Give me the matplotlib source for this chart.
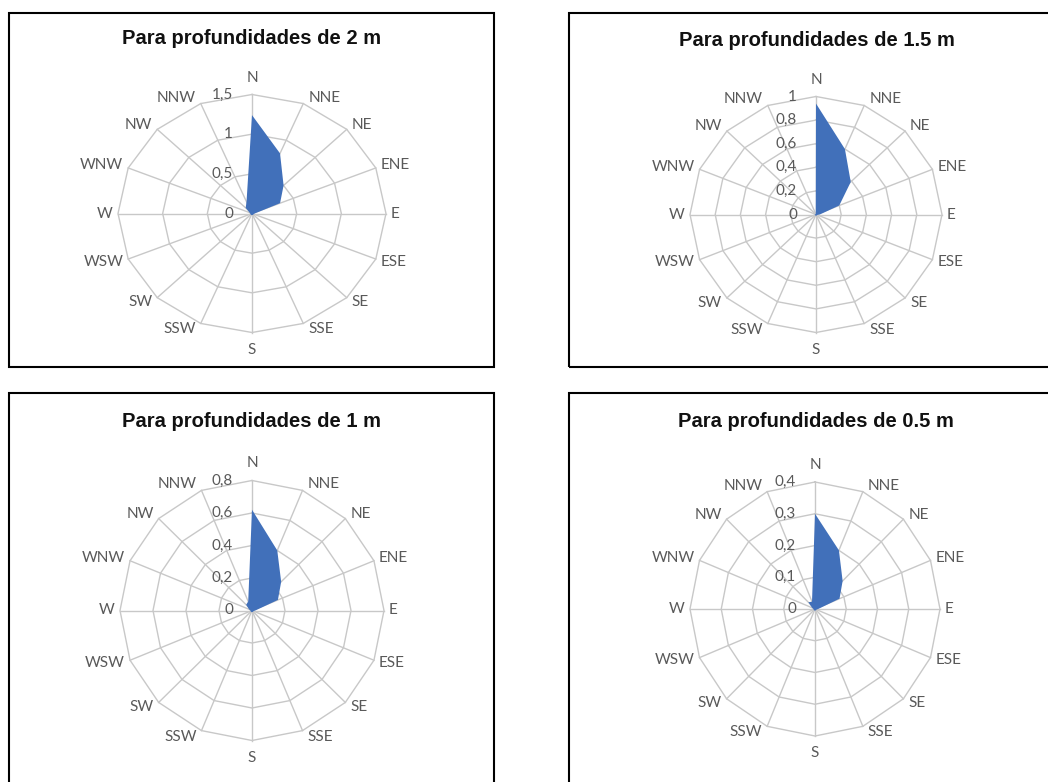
import numpy as np
import matplotlib
matplotlib.use("Agg")
import matplotlib.pyplot as plt
from matplotlib.patches import Rectangle

W, H = 1048, 782

directions = ["N", "NNE", "NE", "ENE", "E", "ESE", "SE", "SSE",
              "S", "SSW", "SW", "WSW", "W", "WNW", "NW", "NNW"]

titles = ["Para profundidades de 2 m", "Para profundidades de 1.5 m",
          "Para profundidades de 1 m", "Para profundidades de 0.5 m"]

vals_2m = [1.24, 0.82, 0.50, 0.34, 0.03, 0.02, 0.02, 0.02,
           0.02, 0.02, 0.02, 0.02, 0.02, 0.03, 0.10, 0.16]
vals_15m = [0.94, 0.60, 0.39, 0.20, 0.03, 0.01, 0.01, 0.01,
            0.01, 0.01, 0.01, 0.01, 0.01, 0.005, 0.005, 0.005]
vals_1m = [0.62, 0.40, 0.25, 0.17, 0.02, 0.01, 0.01, 0.01,
           0.01, 0.01, 0.01, 0.01, 0.01, 0.02, 0.05, 0.06]
vals_05m = [0.30, 0.20, 0.125, 0.085, 0.01, 0.005, 0.005, 0.005,
            0.005, 0.005, 0.005, 0.005, 0.005, 0.01, 0.03, 0.025]

r_max = [1.5, 1.0, 0.8, 0.4]
r_step = [0.5, 0.2, 0.2, 0.1]

# panel layout in pixels: centre x, centre y, x radius, y radius
centers = [(252, 213.5), (816, 214.5), (252, 610.5), (815, 609)]
radii = [(134, 119), (126, 118), (132, 130), (125, 127)]
title_pos = [(252, 39), (817, 40), (252, 422), (816, 422)]
boxes = [(9, 13, 494, 367), (569, 13, 1070, 367),
         (9, 393, 494, 800), (569, 393, 1070, 800)]

BLUE = "#4170BA"
GRID = "#c8c8c8"
TXT = "#595959"
label_font = ["Lato", "DejaVu Sans"]

fig = plt.figure(figsize=(W / 100, H / 100), dpi=100)
fig.patch.set_facecolor("white")

theta = np.deg2rad(np.arange(16) * 22.5)
sx, cy_ = np.sin(theta), np.cos(theta)

for i, vals in enumerate([vals_2m, vals_15m, vals_1m, vals_05m]):
    x0, y0, x1, y1 = boxes[i]
    fig.add_artist(Rectangle((x0 / W, 1 - y1 / H), (x1 - x0) / W, (y1 - y0) / H,
                             transform=fig.transFigure, fill=False,
                             ec="black", lw=1.5))
    tx, ty = title_pos[i]
    fig.text(tx / W, 1 - ty / H, titles[i], ha="center", va="center",
             fontsize=14.5, fontweight="bold", family="Liberation Sans", color="#111111")

    cx, cy = centers[i]
    rx, ry = radii[i]
    ax = fig.add_axes([(cx - rx) / W, 1 - (cy + ry) / H, 2 * rx / W, 2 * ry / H])
    ax.set_xlim(-1, 1)
    ax.set_ylim(-1, 1)
    ax.axis("off")

    # rings and spokes
    ticks = np.arange(0, r_max[i] + r_step[i] / 2, r_step[i])
    for t in ticks[1:]:
        rr = t / r_max[i]
        ax.plot(np.append(rr * sx, rr * sx[0]), np.append(rr * cy_, rr * cy_[0]),
                color=GRID, lw=1.0, clip_on=False, zorder=1)
    for k in range(16):
        ax.plot([0, sx[k]], [0, cy_[k]], color=GRID, lw=1.0, clip_on=False, zorder=1)

    r = np.array(vals) / r_max[i]
    ax.fill(r * sx, r * cy_, color=BLUE, lw=0, clip_on=False, zorder=3)

    # radial tick labels
    for t in ticks:
        lab = ("%g" % round(t, 2)).replace(".", ",")
        ax.annotate(lab, xy=(0, t / r_max[i]), xytext=(-19, 0), textcoords="offset pixels",
                    ha="right", va="center", fontsize=11, color=TXT,
                    family=label_font, annotation_clip=False, zorder=4)

    # direction labels
    for k, name in enumerate(directions):
        s, c = sx[k], cy_[k]
        if abs(s) < 1e-6:
            off = (0, 17 * np.sign(c))
            ha = "center"
        else:
            off = (5 * np.sign(s), 6.5 * c)
            ha = "left" if s > 0 else "right"
        ax.annotate(name, xy=(s, c), xytext=off, textcoords="offset pixels",
                    ha=ha, va="center", fontsize=11, color=TXT,
                    family=label_font, annotation_clip=False)

fig.savefig("out.png", dpi=100)
